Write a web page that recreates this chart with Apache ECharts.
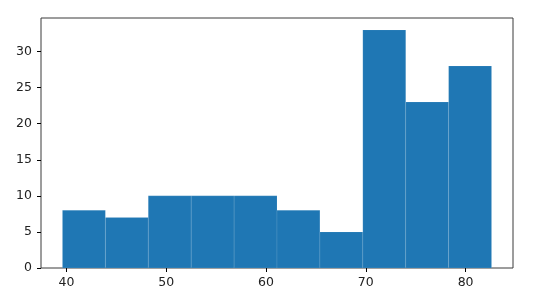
<!DOCTYPE html>
<html>
<head>
<meta charset="utf-8">
<script src="https://cdn.jsdelivr.net/npm/echarts@6/dist/echarts.min.js"></script>
<style>
html,body{margin:0;padding:0;background:#fff;}
#chart{width:533px;height:305px;}
</style>
</head>
<body>
<div id="chart"></div>
<script>
// Histogram bin edges and counts
const binEdges = [39.6, 43.9, 48.2, 52.5, 56.8, 61.1, 65.4, 69.7, 74.0, 78.3, 82.6];
const counts = [8, 7, 10, 10, 10, 8, 5, 33, 23, 28];
const xTicks = [40, 50, 60, 70, 80];
const yTicks = [0, 5, 10, 15, 20, 25, 30];

const bars = counts.map((c, i) => [binEdges[i], binEdges[i + 1], c]);
const span = binEdges[binEdges.length - 1] - binEdges[0];
const xMin = binEdges[0] - span * 0.05;
const xMax = binEdges[binEdges.length - 1] + span * 0.05;
const yMax = Math.max(...counts) * 1.05;

const chart = echarts.init(document.getElementById('chart'), null, {renderer: 'canvas'});
const font = 'DejaVu Sans';
const spine = '#3a3a3a';
chart.setOption({
  animation: false,
  grid: {left: 41, right: 20, top: 18, bottom: 37, show: true, borderColor: spine, borderWidth: 1, backgroundColor: 'transparent'},
  xAxis: {
    type: 'value', min: xMin, max: xMax,
    splitLine: {show: false},
    axisLine: {show: false},
    axisTick: {show: true, length: 4, customValues: xTicks, lineStyle: {color: '#000', width: 1}},
    axisLabel: {customValues: xTicks, color: '#222', fontFamily: font, fontSize: 12.5, margin: 8}
  },
  yAxis: {
    type: 'value', min: 0, max: yMax,
    splitLine: {show: false},
    axisLine: {show: false},
    axisTick: {show: true, length: 4, customValues: yTicks, lineStyle: {color: '#000', width: 1}},
    axisLabel: {customValues: yTicks, color: '#222', fontFamily: font, fontSize: 12.5, margin: 9}
  },
  series: [{
    type: 'custom',
    data: bars,
    renderItem: function (params, api) {
      const p0 = api.coord([api.value(0), 0]);
      const p1 = api.coord([api.value(1), api.value(2)]);
      return {
        type: 'rect',
        shape: {x: p0[0], y: p1[1], width: p1[0] - p0[0], height: p0[1] - p1[1]},
        style: {fill: '#1f77b4', stroke: 'rgba(255,255,255,0.2)', lineWidth: 0.5}
      };
    }
  }]
});
</script>
</body>
</html>
